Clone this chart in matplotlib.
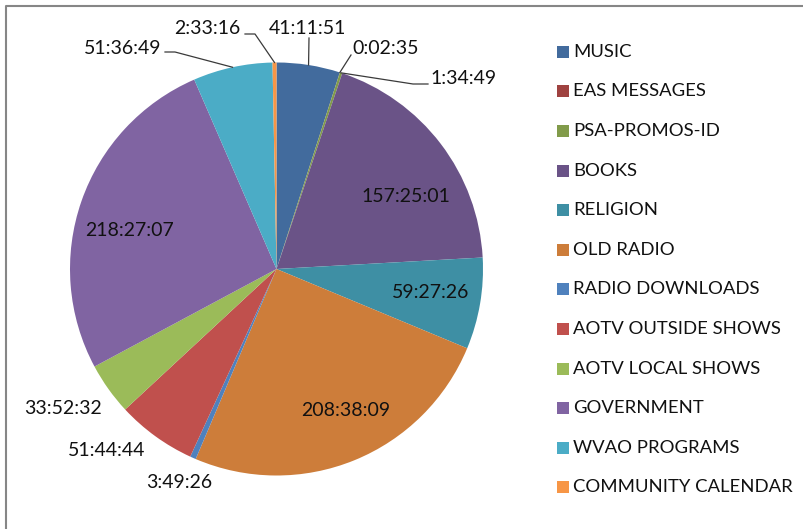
import matplotlib
matplotlib.use("Agg")
import matplotlib.pyplot as plt
from matplotlib.lines import Line2D
from matplotlib.patches import Rectangle
import numpy as np

plt.rcParams['font.family'] = ['Lato', 'DejaVu Sans']

categories = ["MUSIC", "EAS MESSAGES", "PSA-PROMOS-ID", "BOOKS", "RELIGION",
              "OLD RADIO", "RADIO DOWNLOADS", "AOTV OUTSIDE SHOWS",
              "AOTV LOCAL SHOWS", "GOVERNMENT", "WVAO PROGRAMS",
              "COMMUNITY CALENDAR"]
durations = ["41:11:51", "0:02:35", "1:34:49", "157:25:01", "59:27:26",
             "208:38:09", "3:49:26", "51:44:44", "33:52:32", "218:27:07",
             "51:36:49", "2:33:16"]
colors = ["#426B9D", "#9F4240", "#819B4A", "#6A5387", "#3E8FA4", "#CD7D3A",
          "#4F81BD", "#C0504D", "#9BBB59", "#8064A2", "#4BACC6", "#F79646"]


def to_hours(s):
    h, m, sec = (int(p) for p in s.split(":"))
    return h + m / 60 + sec / 3600


values = [to_hours(d) for d in durations]

W, H = 804, 529
fig = plt.figure(figsize=(W / 100, H / 100), dpi=100)
fig.patch.set_facecolor("white")

# pie geometry (pixels, image coords from top)
cx, cy, R = 276.5, 269.0, 206.5
ax = fig.add_axes([(cx - R) / W, (H - cy - R) / H, 2 * R / W, 2 * R / H])

wedges, _ = ax.pie(values, colors=colors, startangle=90, counterclock=False,
                   radius=1, wedgeprops=dict(linewidth=0))
ax.set_xlim(-1, 1)
ax.set_ylim(-1, 1)
ax.axis("off")

# label layout: text centre in image pixels, optional leader path points
label_pos = [(307.5, 29), (386, 49), (463.5, 78), (406, 196), (431, 292),
             (345.5, 410), (179, 483), (107, 450), (63, 408), (130, 230),
             (122.5, 49), (207.5, 29)]
leaders = {0: [(309, 38)],
           1: [(351, 55)],
           2: [(428, 84), (413, 84)],
           10: [(165, 52), (175, 52)],
           11: [(245, 34), (255, 34)]}

fig.canvas.draw()
for i, (w, txt) in enumerate(zip(wedges, durations)):
    px, py = label_pos[i]
    fig.text(px / W, (H - py) / H, txt, ha="center", va="center",
             fontsize=14, color="#111111")
    if i in leaders:
        mid = np.deg2rad((w.theta1 + w.theta2) / 2)
        ex, ey = ax.transData.transform((np.cos(mid), np.sin(mid)))
        pts = [(x, H - y) for x, y in leaders[i]] + [(ex, ey)]
        xs = [p[0] / W for p in pts]
        ys = [p[1] / H for p in pts]
        fig.add_artist(Line2D(xs, ys, transform=fig.transFigure,
                              color="#3a3a3a", linewidth=0.9))

# legend
leg_x, leg_y0, leg_dy, box = 557, 51.7, 39.6, 12
for i, (cat, col) in enumerate(zip(categories, colors)):
    yc = leg_y0 + i * leg_dy
    fig.add_artist(Rectangle((leg_x / W, (H - yc - box / 2) / H), box / W, box / H,
                             transform=fig.transFigure, facecolor=col,
                             edgecolor="none"))
    fig.text((leg_x + box + 4) / W, (H - yc) / H, cat, ha="left", va="center",
             fontsize=13.3, color="#111111")

# chart frame (top and left edges visible)
fig.add_artist(Line2D([6.2 / W, 6.2 / W, 1.0], [0, (H - 5.8) / H, (H - 5.8) / H],
                      transform=fig.transFigure, color="#868686", linewidth=1.5))

fig.savefig("out.png", dpi=100)
